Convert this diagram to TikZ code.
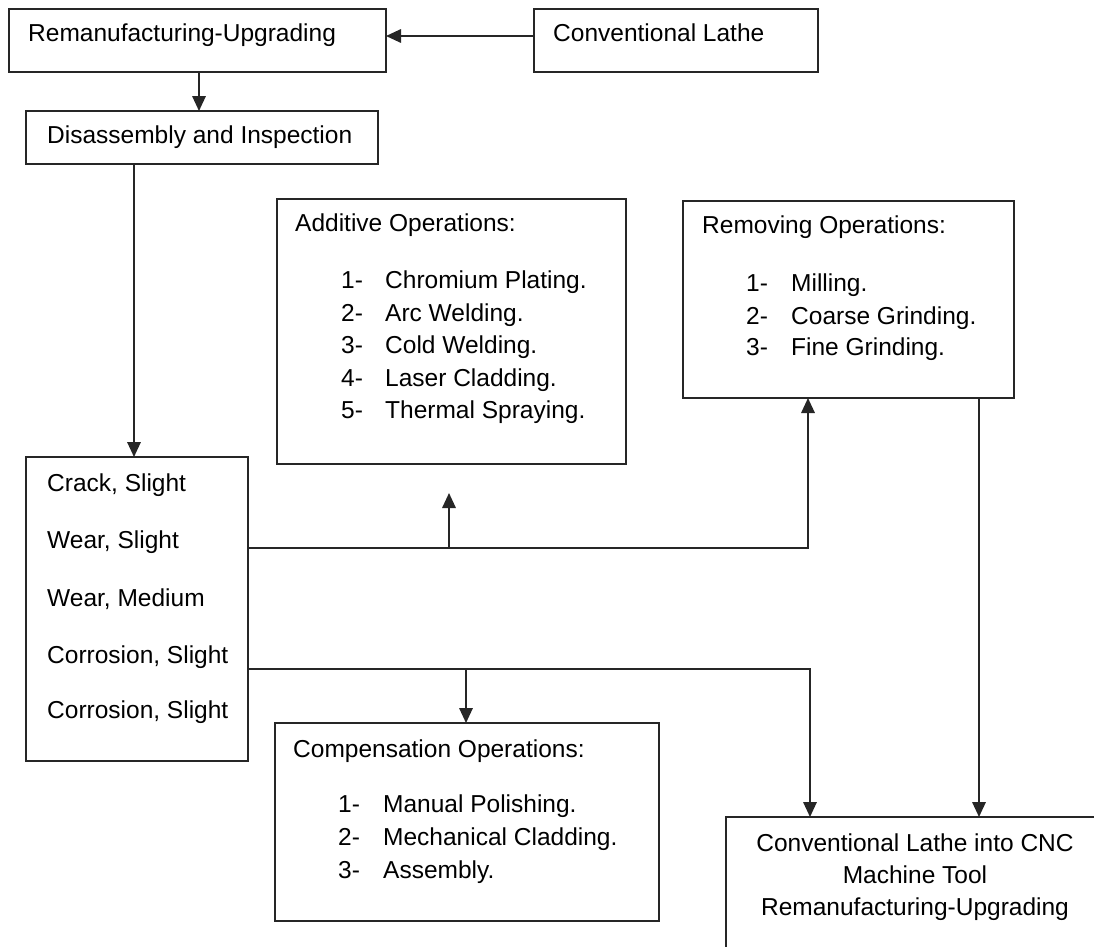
\documentclass[tikz,border=0pt]{standalone}
\usepackage{fontspec}
\setmainfont{Liberation Sans}
\usetikzlibrary{arrows.meta}
\newcommand\mybox[5]{\node[box, minimum width={#4-#2}, minimum height={#5-#3}] (#1) at ({(#2+#4)/2},{(#3+#5)/2}) {};}
\begin{document}
\begin{tikzpicture}[x=1pt,y=-1pt,
  box/.style={draw=black!85, line width=1.7pt, rectangle, inner sep=0pt, outer sep=0pt},
  txt/.style={inner sep=0pt, anchor=west, text height=17.5pt, text depth=0pt, font=\fontsize{24.5}{32}\selectfont},
  ctxt/.style={txt, anchor=center},
  arr/.style={draw=black!85, line width=1.7pt, -{Triangle[length=15pt,width=13.5pt]}}]
\useasboundingbox (0,0) rectangle (1094,946);
\clip (0,0) rectangle (1094,946);
% boxes
\mybox{A}{9}{9}{386}{72}
\mybox{B}{534}{9}{818}{72}
\mybox{C}{26}{111}{378}{164}
\mybox{D}{26}{457}{248}{761}
\mybox{E}{277}{199}{626}{464}
\mybox{F}{683}{201}{1014}{398}
\mybox{H}{275}{723}{659}{921}
\mybox{G}{726}{817}{1120}{970}
% texts
\node[txt] (tA) at (28,33) {Remanufacturing-Upgrading};
\node[txt] (tB) at (553,33) {Conventional Lathe};
\node[txt] (tC) at (47,135) {Disassembly and Inspection};
\node[txt] (tD1) at (47,483) {Crack, Slight};
\node[txt] (tD2) at (47,540) {Wear, Slight};
\node[txt] (tD3) at (47,598) {Wear, Medium};
\node[txt] (tD4) at (47,655) {Corrosion, Slight};
\node[txt] (tD5) at (47,710) {Corrosion, Slight};
\node[txt] (tE) at (295,223) {Additive Operations:};
\foreach \n/\t/\y in {1/Chromium Plating./280, 2/Arc Welding./313, 3/Cold Welding./345, 4/Laser Cladding./378, 5/Thermal\ Spraying./410}{
  \node[txt] (nE\n) at (341,\y) {\n-};
  \node[txt] (iE\n) at (385,\y) {\t};
}
\node[txt] (tF) at (702,225) {Removing Operations:};
\foreach \n/\t/\y in {1/Milling./283, 2/Coarse Grinding./316, 3/Fine Grinding./347}{
  \node[txt] (nF\n) at (746,\y) {\n-};
  \node[txt] (iF\n) at (791,\y) {\t};
}
\node[txt] (tH) at (293,749) {Compensation Operations:};
\foreach \n/\t/\y in {1/Manual Polishing./804, 2/Mechanical Cladding./837, 3/Assembly./870}{
  \node[txt] (nH\n) at (338,\y) {\n-};
  \node[txt] (iH\n) at (383,\y) {\t};
}
\node[ctxt] (tG1) at (915,843) {Conventional Lathe into CNC};
\node[ctxt] (tG2) at (915,875) {Machine Tool};
\node[ctxt] (tG3) at (915,907) {Remanufacturing-Upgrading};
% connectors
\coordinate (eTip) at (449,493);
\draw[arr] (B.west |- 0,36) -- (A.east |- 0,36);
\draw[arr] (A.south -| 199,0) -- (C.north -| 199,0);
\draw[arr] (C.south -| 134,0) -- (D.north -| 134,0);
\draw[arr] (D.east |- 0,548) -| (F.south -| 808,0);
\draw[arr] (D.east |- 0,548) -| (eTip);
\draw[arr] (D.east |- 0,669) -| (G.north -| 810,0);
\draw[arr] (D.east |- 0,669) -| (H.north -| 466,0);
\draw[arr] (F.south -| 979,0) -- (G.north -| 979,0);
\end{tikzpicture}
\end{document}
